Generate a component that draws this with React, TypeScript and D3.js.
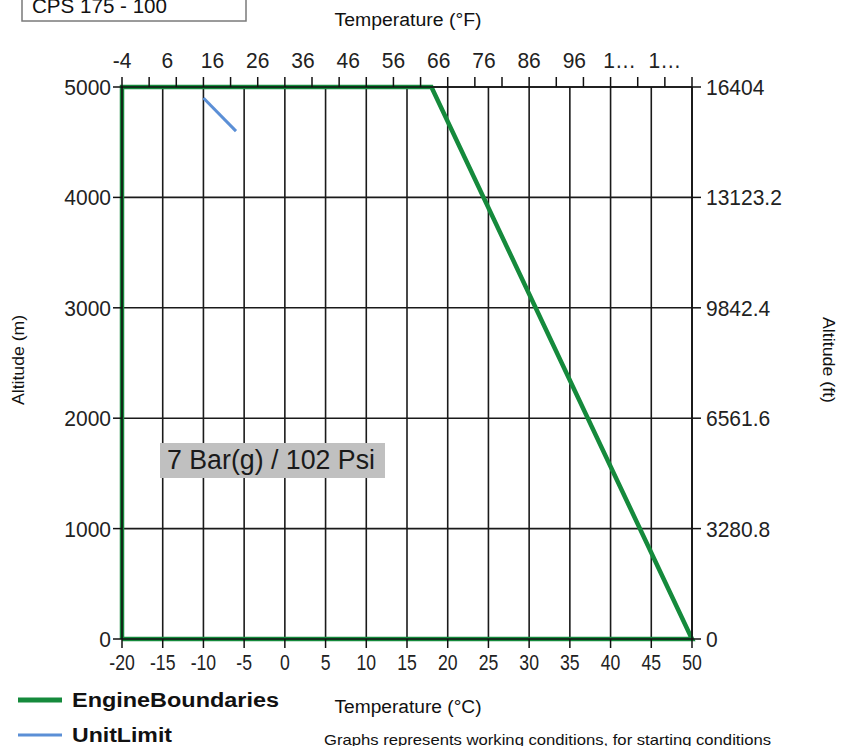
import React from "react";
import * as d3 from "d3";

// ---- data ----
const engineTemp = [-20, -20, 18, 50, -20];
const engineAlt = [0, 5000, 5000, 0, 0];
const unitTemp = [-10, -6];
const unitAlt = [4900, 4600];

const celsiusTicks = [-20, -15, -10, -5, 0, 5, 10, 15, 20, 25, 30, 35, 40, 45, 50];
const altTicks = [0, 1000, 2000, 3000, 4000, 5000];
const feetLabels = ["0", "3280.8", "6561.6", "9842.4", "13123.2", "16404"];
const fahrenheitTickMarks = [-4, 2, 8, 14, 20, 26, 32, 38, 44, 50, 56, 62, 68, 74, 80, 86, 92, 98, 104, 110, 116, 122];
const fahrenheitLabelValues = [-4, 6, 16, 26, 36, 46, 56, 66, 76, 86, 96, 106, 116];
const fahrenheitLabels = ["-4", "6", "16", "26", "36", "46", "56", "66", "76", "86", "96", "1…", "1…"];

const W = 849;
const H = 746;
const FONT = "'Liberation Sans', Arial, sans-serif";

function stretch(cx: number, cy: number, sx: number, sy: number) {
  return `translate(${cx},${cy}) scale(${sx},${sy}) translate(${-cx},${-cy})`;
}

export default function App() {
  const x = d3.scaleLinear().domain([-20, 50]).range([122, 692]);
  const xf = d3.scaleLinear().domain([-4, 122]).range([122, 692]);
  const y = d3.scaleLinear().domain([0, 5000]).range([639, 87]);

  const line = d3
    .line<number>()
    .x((_, i) => x(engineTemp[i]))
    .y((_, i) => y(engineAlt[i]));
  const unitLine = d3
    .line<number>()
    .x((_, i) => x(unitTemp[i]))
    .y((_, i) => y(unitAlt[i]));

  const [x0, x1] = x.range();
  const [y0, y1] = y.range();
  const tickLen = 9;

  return (
    <svg
      width={W}
      height={H}
      style={{ position: "absolute", left: 0, top: 0, background: "#fff" }}
      fontFamily={FONT}
    >
      {/* title box */}
      <rect x={22} y={-2} width={224} height={23} fill="#fff" stroke="#7a7a7a" strokeWidth={1.5} />
      <text x={32} y={13} fontSize={20} fill="#111" textLength={135} lengthAdjust="spacingAndGlyphs">CPS 175 - 100</text>

      {/* axis titles */}
      <text x={408} y={26} fontSize={18} textAnchor="middle" textLength={147} lengthAdjust="spacingAndGlyphs" fill="#111">
        Temperature (°F)
      </text>
      <text x={408} y={713} fontSize={18} textAnchor="middle" textLength={147} lengthAdjust="spacingAndGlyphs" fill="#111">
        Temperature (°C)
      </text>
      <text
        transform="translate(24,360) rotate(-90)"
        fontSize={16}
        textAnchor="middle"
        textLength={90}
        lengthAdjust="spacingAndGlyphs"
        fill="#111"
      >
        Altitude (m)
      </text>
      <text
        transform="translate(823,360) rotate(90)"
        fontSize={16}
        textAnchor="middle"
        textLength={86}
        lengthAdjust="spacingAndGlyphs"
        fill="#111"
      >
        Altitude (ft)
      </text>

      {/* gridlines */}
      {celsiusTicks.map((t) => (
        <line key={"gx" + t} x1={x(t)} x2={x(t)} y1={y1} y2={y0} stroke="#1a1a1a" strokeWidth={1.6} />
      ))}
      {altTicks.map((t) => (
        <line key={"gy" + t} x1={x0} x2={x1} y1={y(t)} y2={y(t)} stroke="#1a1a1a" strokeWidth={1.6} />
      ))}

      {/* series */}
      <path d={line(engineTemp) || ""} fill="none" stroke="#158a3c" strokeWidth={4.5} strokeLinejoin="miter" />
      <path d={unitLine(unitTemp) || ""} fill="none" stroke="#5b8fd6" strokeWidth={3} />

      {/* axes lines */}
      <line x1={x0} x2={x1} y1={y0} y2={y0} stroke="#111" strokeWidth={1.6} />
      <line x1={x0} x2={x1} y1={y1} y2={y1} stroke="#111" strokeWidth={1.6} />
      <line x1={x0} x2={x0} y1={y0} y2={y1} stroke="#111" strokeWidth={1.6} />
      <line x1={x1} x2={x1} y1={y0} y2={y1} stroke="#111" strokeWidth={1.6} />

      {/* bottom axis */}
      {celsiusTicks.map((t) => (
        <g key={"bx" + t}>
          <line x1={x(t)} x2={x(t)} y1={y0} y2={y0 + tickLen} stroke="#111" strokeWidth={1.5} />
          <text x={x(t)} y={670} fontSize={21} textAnchor="middle" fill="#222" transform={stretch(x(t), 670, 0.84, 1.08)}>
            {t}
          </text>
        </g>
      ))}

      {/* top axis (°F) */}
      {fahrenheitTickMarks.map((t) => (
        <line key={"tf" + t} x1={xf(t)} x2={xf(t)} y1={y1 - tickLen - 1} y2={y1} stroke="#111" strokeWidth={1.5} />
      ))}
      {fahrenheitLabelValues.map((t, i) => (
        <text key={"lf" + t} x={xf(t)} y={68} fontSize={21} textAnchor="middle" fill="#222" transform={stretch(xf(t), 68, 1, 1.08)}>
          {fahrenheitLabels[i]}
        </text>
      ))}

      {/* left axis */}
      {altTicks.map((t) => (
        <g key={"ly" + t}>
          <line x1={x0 - tickLen} x2={x0} y1={y(t)} y2={y(t)} stroke="#111" strokeWidth={1.5} />
          <text x={x0 - tickLen - 2} y={y(t) + 8} fontSize={21} textAnchor="end" fill="#222" transform={stretch(x0, y(t) + 8, 1, 1.08)}>
            {t}
          </text>
        </g>
      ))}

      {/* right axis (ft) */}
      {altTicks.map((t, i) => (
        <g key={"ry" + t}>
          <line x1={x1} x2={x1 + tickLen} y1={y(t)} y2={y(t)} stroke="#111" strokeWidth={1.5} />
          <text x={x1 + tickLen + 5} y={y(t) + 8} fontSize={21} textAnchor="start" fill="#222" transform={stretch(x1, y(t) + 8, 1, 1.08)}>
            {feetLabels[i]}
          </text>
        </g>
      ))}

      {/* annotation */}
      <rect x={160} y={443} width={225} height={35} fill="#c0c0c0" />
      <text x={167} y={469} fontSize={27} textLength={208} lengthAdjust="spacingAndGlyphs" fill="#1a1a1a">
        7 Bar(g) / 102 Psi
      </text>

      {/* legend */}
      <line x1={18} x2={62} y1={700} y2={700} stroke="#158a3c" strokeWidth={5} />
      <text x={72} y={707} fontSize={20} fontWeight="bold" textLength={207} lengthAdjust="spacingAndGlyphs" fill="#111">
        EngineBoundaries
      </text>
      <line x1={18} x2={62} y1={735} y2={735} stroke="#5b8fd6" strokeWidth={3} />
      <text x={72} y={742} fontSize={20} fontWeight="bold" textLength={100} lengthAdjust="spacingAndGlyphs" fill="#111">
        UnitLimit
      </text>

      {/* footnote */}
      <text x={324} y={745} fontSize={15} textLength={447} lengthAdjust="spacingAndGlyphs" fill="#111">
        Graphs represents working conditions, for starting conditions
      </text>
    </svg>
  );
}
